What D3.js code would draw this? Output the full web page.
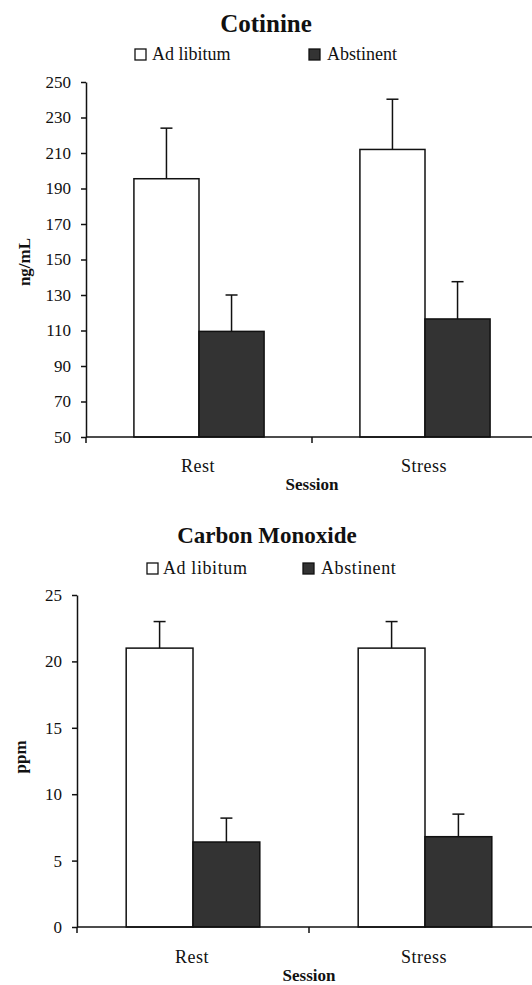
<!DOCTYPE html>
<html>
<head>
<meta charset="utf-8">
<script src="https://cdn.jsdelivr.net/npm/d3@7"></script>
<style>
  html, body { margin: 0; padding: 0; background: #fff; }
  svg { display: block; }
  text { font-family: "Liberation Serif", "Times New Roman", serif; fill: #111; }
</style>
</head>
<body>
<svg id="chart" width="532" height="985"></svg>
<script>
// ---- Data ----
const sessions = ["Rest", "Stress"];
const seriesNames = ["Ad libitum", "Abstinent"];

const cotinineAdLib = [195.5, 212];
const cotinineAdLibErr = [28.5, 28.3];
const cotinineAbstinent = [109.5, 116.5];
const cotinineAbstinentErr = [20.5, 21];
const cotinineTicks = [50, 70, 90, 110, 130, 150, 170, 190, 210, 230, 250];

const coAdLib = [21, 21];
const coAdLibErr = [2, 2];
const coAbstinent = [6.4, 6.8];
const coAbstinentErr = [1.8, 1.7];
const coTicks = [0, 5, 10, 15, 20, 25];

const svg = d3.select("#chart");
const fills = ["#ffffff", "#333333"];

function drawChart(cfg) {
  const g = svg.append("g");
  const y = d3.scaleLinear().domain(cfg.domain).range([cfg.bottom, cfg.top]);
  const x0 = d3.scaleBand().domain(sessions).range([cfg.left, cfg.right]).padding(0);
  const bw = x0.bandwidth();
  const x1 = d3.scaleBand().domain(seriesNames).range([bw * 0.212, bw * 0.788]).padding(0);

  // title
  g.append("text").attr("x", cfg.titleX).attr("y", cfg.titleY)
    .attr("text-anchor", "middle").attr("font-weight", "bold")
    .attr("font-size", cfg.titleSize).text(cfg.title);

  // legend
  cfg.legend.forEach((L, i) => {
    g.append("rect").attr("x", L.sx).attr("y", cfg.legendY - 11)
      .attr("width", 11).attr("height", 11)
      .attr("fill", fills[i]).attr("stroke", "#111").attr("stroke-width", 1.3);
    g.append("text").attr("x", L.tx).attr("y", cfg.legendY)
      .attr("font-size", 18).attr("letter-spacing", cfg.legendSpacing || 0)
      .text(seriesNames[i]);
  });

  // bars
  const rows = [];
  sessions.forEach((s, i) => {
    cfg.values.forEach((vals, k) => {
      rows.push({ session: s, series: seriesNames[k], k, v: vals[i], e: cfg.errors[k][i] });
    });
  });
  const base = cfg.domain[0];

  // error bars (drawn before bars so the line starts at bar top)
  rows.forEach(d => {
    const cx = x0(d.session) + x1(d.series) + x1.bandwidth() / 2;
    g.append("line").attr("x1", cx).attr("x2", cx)
      .attr("y1", y(d.v)).attr("y2", y(d.v + d.e))
      .attr("stroke", "#111").attr("stroke-width", 1.5);
    g.append("line").attr("x1", cx - 6).attr("x2", cx + 6)
      .attr("y1", y(d.v + d.e)).attr("y2", y(d.v + d.e))
      .attr("stroke", "#111").attr("stroke-width", 1.5);
  });

  g.selectAll("rect.bar").data(rows).join("rect").attr("class", "bar")
    .attr("x", d => x0(d.session) + x1(d.series))
    .attr("width", x1.bandwidth())
    .attr("y", d => y(d.v))
    .attr("height", d => y(base) - y(d.v))
    .attr("fill", d => fills[d.k])
    .attr("stroke", "#111").attr("stroke-width", 1.5);

  // y axis
  const yAxis = d3.axisLeft(y).tickValues(cfg.ticks).tickSize(5).tickSizeOuter(0).tickPadding(10);
  const ya = g.append("g").attr("transform", `translate(${cfg.left},0)`).call(yAxis);
  ya.select(".domain").attr("stroke", "#111").attr("stroke-width", 1.5);
  ya.selectAll(".tick line").attr("stroke", "#111").attr("stroke-width", 1.5);
  ya.selectAll(".tick text").attr("font-size", 17).attr("fill", "#222")
    .attr("font-family", "Liberation Serif, serif");

  // x axis
  const xa = g.append("g");
  xa.append("line").attr("x1", cfg.left).attr("x2", cfg.right)
    .attr("y1", y(base)).attr("y2", y(base))
    .attr("stroke", "#111").attr("stroke-width", 1.5);
  const bounds = sessions.map(s => x0(s)).concat([x0(sessions[sessions.length - 1]) + bw]);
  bounds.forEach(bx => {
    xa.append("line").attr("x1", bx).attr("x2", bx)
      .attr("y1", y(base)).attr("y2", y(base) + 6)
      .attr("stroke", "#111").attr("stroke-width", 1.5);
  });
  sessions.forEach(s => {
    xa.append("text").attr("x", x0(s) + bw / 2 - 1).attr("y", y(base) + cfg.catOffset)
      .attr("text-anchor", "middle").attr("font-size", 18).attr("letter-spacing", 0.5)
      .attr("fill", "#222").text(s);
  });
  xa.append("text").attr("x", x0(sessions[1])).attr("y", y(base) + cfg.sessOffset)
    .attr("text-anchor", "middle").attr("font-size", 17).attr("font-weight", "bold")
    .text("Session");

  // y label
  g.append("text")
    .attr("transform", `translate(${cfg.yLabelX},${cfg.yLabelY}) rotate(-90)`)
    .attr("text-anchor", "middle").attr("dominant-baseline", "central")
    .attr("font-size", 17).attr("font-weight", "bold").text(cfg.yLabel);
}

drawChart({
  title: "Cotinine", titleX: 266, titleY: 32, titleSize: 25,
  legendY: 60, legend: [{ sx: 135, tx: 152 }, { sx: 309, tx: 327 }],
  left: 86, right: 538, top: 82, bottom: 437, domain: [50, 250],
  ticks: cotinineTicks,
  values: [cotinineAdLib, cotinineAbstinent],
  errors: [cotinineAdLibErr, cotinineAbstinentErr],
  catOffset: 35, sessOffset: 53,
  yLabel: "ng/mL", yLabelX: 24, yLabelY: 262
});

drawChart({
  title: "Carbon Monoxide", titleX: 267, titleY: 543, titleSize: 23,
  legendY: 574, legendSpacing: 0.6, legend: [{ sx: 147, tx: 163 }, { sx: 303, tx: 321 }],
  left: 77, right: 541, top: 595, bottom: 927, domain: [0, 25],
  ticks: coTicks,
  values: [coAdLib, coAbstinent],
  errors: [coAdLibErr, coAbstinentErr],
  catOffset: 36, sessOffset: 54,
  yLabel: "ppm", yLabelX: 20, yLabelY: 757
});
</script>
</body>
</html>
